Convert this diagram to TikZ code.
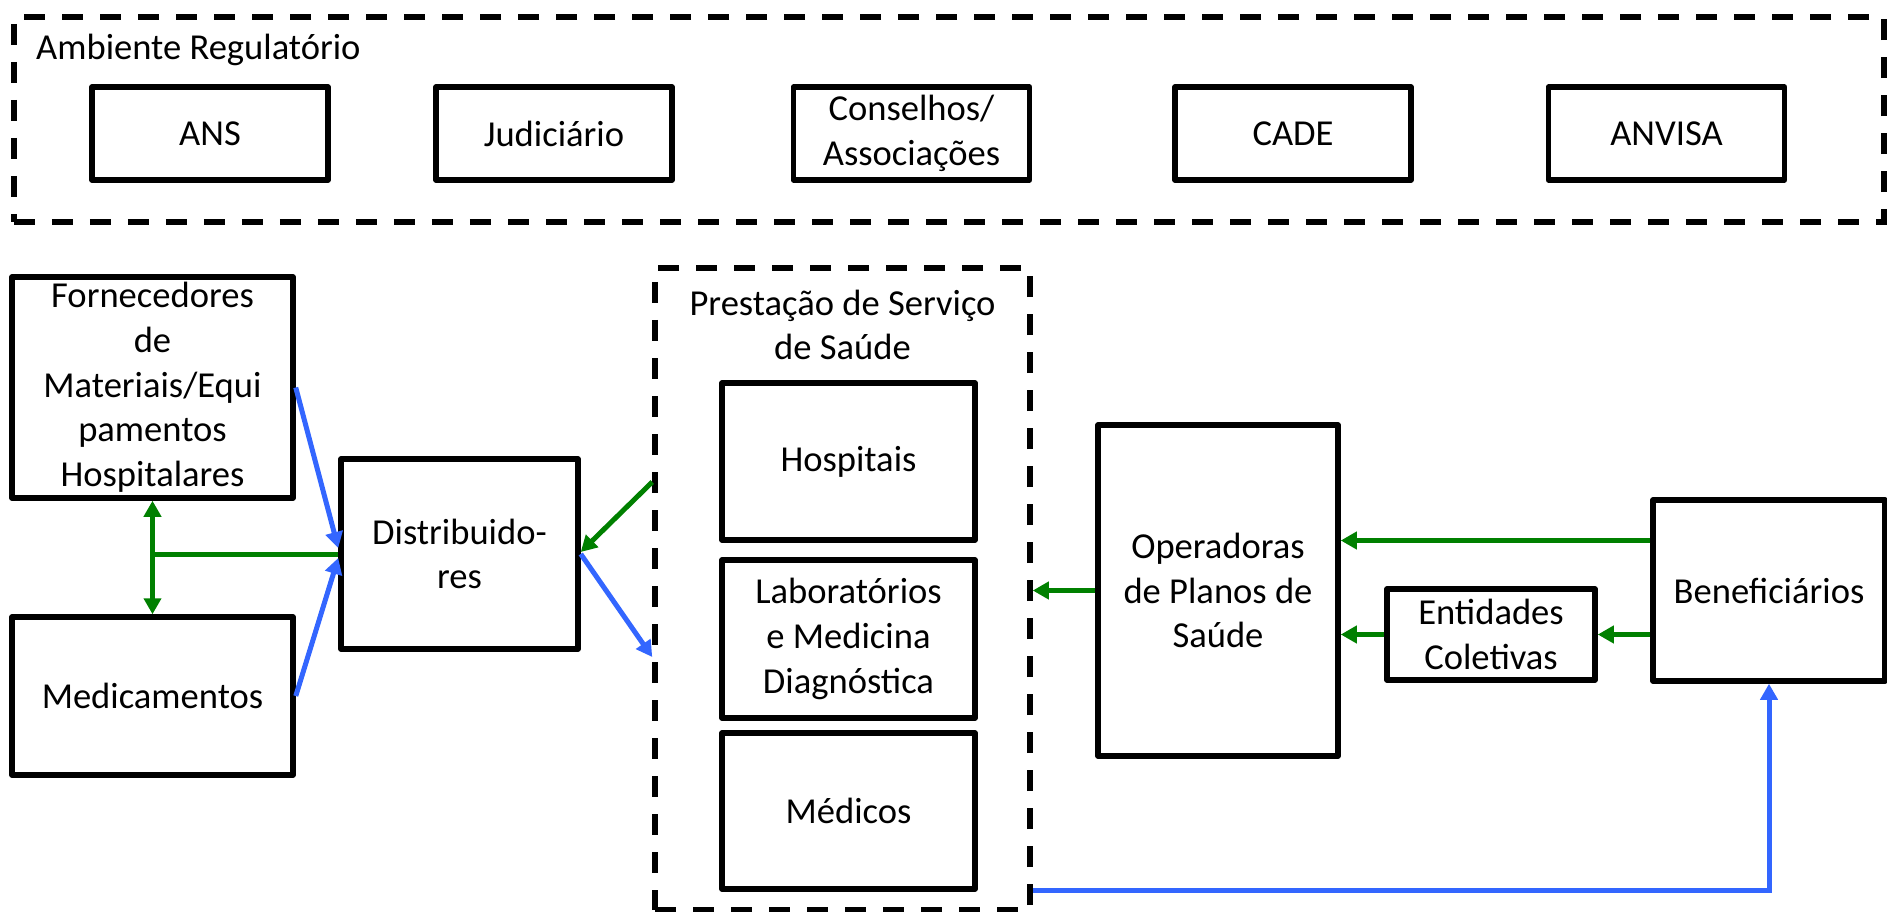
\documentclass[tikz,border=0pt]{standalone}
\usepackage{fontspec}
\setmainfont{Carlito}
\usetikzlibrary{arrows.meta,calc}
\definecolor{flowgreen}{RGB}{0,128,0}
\definecolor{flowblue}{RGB}{51,102,255}
\begin{document}
\begin{tikzpicture}[x=1bp,y=-1bp,
  txt/.style={font=\fontsize{36.7}{44.9}\selectfont, align=center, inner sep=0pt},
  wh/.style 2 args={minimum width=#1bp, minimum height=#2bp},
  box/.style={txt, draw=black, line width=5.5bp, line join=round},
  frame/.style={draw=black, line width=5.5bp, dash pattern=on 21bp off 17bp, inner sep=0pt},
  greenline/.style={draw=flowgreen, line width=5bp},
  blueline/.style={draw=flowblue, line width=5bp},
  greenarrow/.style={greenline, -{Triangle[length=16bp,width=17bp]}},
  bluearrow/.style={blueline, -{Triangle[length=16bp,width=17bp]}}
]
\fill[white] (0,0) rectangle (1887,912);
\useasboundingbox (0,0) rectangle (1887,912);

% regulatory environment
\node[frame, wh={1870}{205}] (reg) at (949,119.5) {};
\node[txt, anchor=west] (regtitle) at (36,50) {Ambiente Regulatório};
\node[box, wh={236}{93}] (ans) at (210,133.5) {ANS};
\node[box, wh={236}{93}] (jud) at (554,133.5) {Judiciário};
\node[box, wh={236}{93}] (cons) at (911.5,133.5) {Conselhos/\\Associações};
\node[box, wh={236}{93}] (cade) at (1293,133.5) {CADE};
\node[box, wh={236}{93}] (anvisa) at (1666.5,133.5) {ANVISA};

% supply side
\node[box, wh={281}{221}] (forn) at (152.5,387.5) {Fornecedores\\de\\Materiais/Equi\\pamentos\\Hospitalares};
\node[box, wh={281}{158}] (med) at (152.5,696) {Medicamentos};
\node[box, wh={237}{190}] (dist) at (459.5,554) {Distribuido-\\res};

% health service providers
\node[frame, wh={375}{642}] (prest) at (842.5,589) {};
\node[txt] (presttitle) at (842.5,325) {Prestação de Serviço\\de Saúde};
\node[box, wh={253}{157}] (hosp) at (848.5,461.5) {Hospitais};
\node[box, wh={253}{158}] (lab) at (848.5,639) {Laboratórios\\e Medicina\\Diagnóstica};
\node[box, wh={253}{156}] (medicos) at (848.5,811) {Médicos};

% health plans and beneficiaries
\node[box, wh={240}{331}] (oper) at (1218,590.5) {Operadoras\\de Planos de\\Saúde};
\node[box, wh={208}{91}] (ent) at (1491,634.5) {Entidades\\Coletivas};
\node[box, wh={232}{181}] (benef) at (1769,590.5) {Beneficiários};

% connectors
\coordinate (junc) at (forn.south |- dist.west);
\draw[greenline, {Triangle[length=16bp,width=17bp]}-{Triangle[length=16bp,width=17bp]}] (forn.south) -- (med.north);
\draw[greenline] (junc) -- (dist.west);
\draw[bluearrow] (forn.east) -- ($(dist.west)+(0,-6)$);
\draw[bluearrow] (med.east) -- ($(dist.west)+(0,4)$);
\draw[greenarrow] ($(prest.west)+(0,-107)$) -- ($(dist.east)+(0,-2)$);
\draw[bluearrow] (dist.east) -- ($(prest.west)+(0,68)$);
\draw[greenarrow] (oper.west) -- (oper.west -| prest.east);
\draw[greenarrow] ($(benef.west)+(0,-50)$) -- ($(oper.east)+(0,-50)$);
\draw[greenarrow] (ent.east -| benef.west) -- (ent.east);
\draw[greenarrow] (ent.west) -- (ent.west -| oper.east);
\draw[bluearrow] ($(prest.east)+(0,301)$) -| (benef.south);
\end{tikzpicture}
\end{document}
